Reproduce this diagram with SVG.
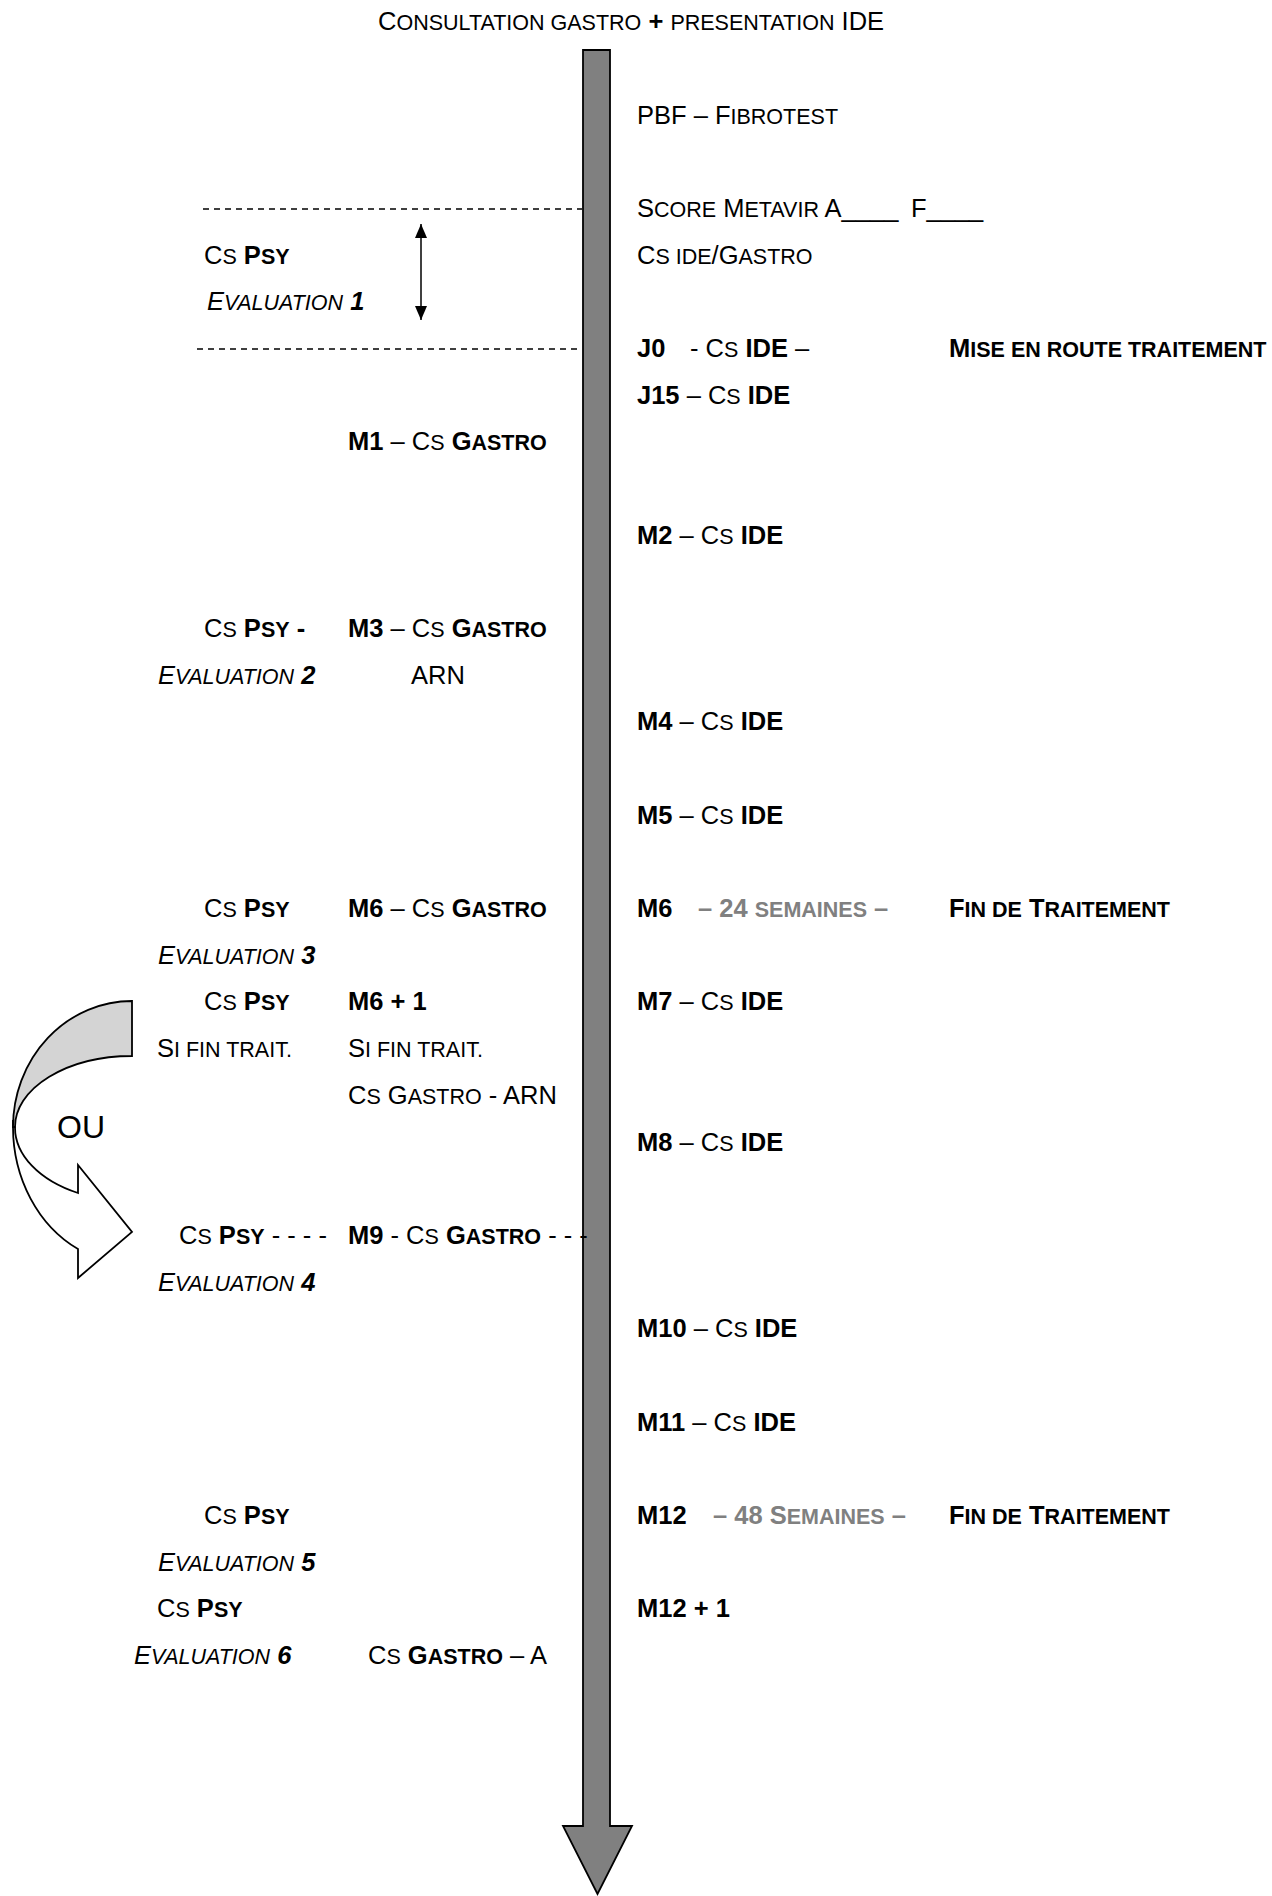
<svg xmlns="http://www.w3.org/2000/svg" width="1272" height="1896" viewBox="0 0 1272 1896">
<style>
text{font-family:"Liberation Sans",Arial,sans-serif;font-size:25.5px;fill:#000}
.s{font-size:21.5px}
.b{font-weight:bold}
.i{font-style:italic}
.g{fill:#808080}
.ou{font-size:32px}
.dash{stroke:#000;stroke-width:1.5;stroke-dasharray:6,5;fill:none}
.ln{stroke:#000;stroke-width:1.5;fill:none}
.shape{stroke:#000;stroke-width:1.8;stroke-linejoin:miter}
</style>
<defs>
<marker id="ah" viewBox="0 0 14 12" refX="14" refY="6" markerWidth="14" markerHeight="12" orient="auto-start-reverse" markerUnits="userSpaceOnUse"><path d="M0,0 L14,6 L0,12 Z" fill="#000"/></marker>
</defs>
<rect width="1272" height="1896" fill="#fff"/>

<g id="connectors">
<path id="timeline" class="shape" fill="#808080" d="M583,50 L610,50 L610,1826 L632,1826 L597.5,1894 L563,1826 L583,1826 Z"/>
<line class="dash" x1="203" y1="209" x2="582" y2="209"/>
<line class="dash" x1="197" y1="349" x2="582" y2="349"/>
<line class="ln" x1="421" y1="224" x2="421" y2="320" marker-start="url(#ah)" marker-end="url(#ah)"/>
<g id="curved-arrow">
<path class="shape" fill="#fff" d="M13,1120 L13,1127 A119,137 0 0 0 78,1249 L78,1278 L132,1232 L78,1165 L78,1193 A117,74 0 0 1 15,1127 Z"/>
<path class="shape" fill="#d4d4d4" d="M132,1001 A119,126 0 0 0 13,1127 L15,1127 A117,71 0 0 1 132,1056 Z"/>
</g>
</g>

<g id="title"><text x="378" y="30">C<tspan class="s">ONSULTATION GASTRO</tspan> <tspan class="b">+</tspan> <tspan class="s">PRESENTATION</tspan> IDE</text></g>

<g id="right-column">
<g id="pbf"><text x="637" y="124">PBF – F<tspan class="s">IBROTEST</tspan></text></g>
<g id="score"><text x="637" y="217">S<tspan class="s">CORE</tspan> M<tspan class="s">ETAVIR</tspan> A____<tspan x="911">F____</tspan></text></g>
<g id="cs-ide-gastro"><text x="637" y="264">C<tspan class="s">S IDE</tspan>/G<tspan class="s">ASTRO</tspan></text></g>
<g id="j0"><text x="637" y="357"><tspan class="b">J0</tspan><tspan x="690">- C</tspan><tspan class="s">S</tspan> <tspan class="b">IDE</tspan> –</text>
<text x="949" y="357" class="b">M<tspan class="s">ISE EN ROUTE TRAITEMENT</tspan></text></g>
<g id="j15"><text x="637" y="404"><tspan class="b">J15</tspan> – C<tspan class="s">S</tspan> <tspan class="b">IDE</tspan></text></g>
<g id="m2"><text x="637" y="544"><tspan class="b">M2</tspan> – C<tspan class="s">S</tspan> <tspan class="b">IDE</tspan></text></g>
<g id="m4"><text x="637" y="730"><tspan class="b">M4</tspan> – C<tspan class="s">S</tspan> <tspan class="b">IDE</tspan></text></g>
<g id="m5"><text x="637" y="824"><tspan class="b">M5</tspan> – C<tspan class="s">S</tspan> <tspan class="b">IDE</tspan></text></g>
<g id="m6-right"><text x="637" y="917" class="b">M6</text>
<text x="698" y="917" class="b g">– 24 <tspan class="s">SEMAINES</tspan> –</text>
<text x="949" y="917" class="b">F<tspan class="s">IN DE</tspan> T<tspan class="s">RAITEMENT</tspan></text></g>
<g id="m7"><text x="637" y="1010"><tspan class="b">M7</tspan> – C<tspan class="s">S</tspan> <tspan class="b">IDE</tspan></text></g>
<g id="m8"><text x="637" y="1151"><tspan class="b">M8</tspan> – C<tspan class="s">S</tspan> <tspan class="b">IDE</tspan></text></g>
<g id="m10"><text x="637" y="1337"><tspan class="b">M10</tspan> – C<tspan class="s">S</tspan> <tspan class="b">IDE</tspan></text></g>
<g id="m11"><text x="637" y="1431"><tspan class="b">M11</tspan> – C<tspan class="s">S</tspan> <tspan class="b">IDE</tspan></text></g>
<g id="m12"><text x="637" y="1524" class="b">M12</text>
<text x="713" y="1524" class="b g">– 48 S<tspan class="s">EMAINES</tspan> –</text>
<text x="949" y="1524" class="b">F<tspan class="s">IN DE</tspan> T<tspan class="s">RAITEMENT</tspan></text></g>
<g id="m12-1"><text x="637" y="1617" class="b">M12 + 1</text></g>
</g>

<g id="left-column">
<g id="psy-1"><text x="204" y="264">C<tspan class="s">S</tspan> <tspan class="b">P<tspan class="s">SY</tspan></tspan></text>
<text x="207" y="310" class="i">E<tspan class="s">VALUATION</tspan> <tspan class="b">1</tspan></text></g>
<g id="m1"><text x="348" y="450"><tspan class="b">M1</tspan> – C<tspan class="s">S</tspan> <tspan class="b">G<tspan class="s">ASTRO</tspan></tspan></text></g>
<g id="psy-2"><text x="204" y="637">C<tspan class="s">S</tspan> <tspan class="b">P<tspan class="s">SY</tspan> -</tspan></text>
<text x="158" y="684" class="i">E<tspan class="s">VALUATION</tspan> <tspan class="b">2</tspan></text></g>
<g id="m3"><text x="348" y="637"><tspan class="b">M3</tspan> – C<tspan class="s">S</tspan> <tspan class="b">G<tspan class="s">ASTRO</tspan></tspan></text>
<text x="411" y="684">ARN</text></g>
<g id="psy-3"><text x="204" y="917">C<tspan class="s">S</tspan> <tspan class="b">P<tspan class="s">SY</tspan></tspan></text>
<text x="158" y="964" class="i">E<tspan class="s">VALUATION</tspan> <tspan class="b">3</tspan></text></g>
<g id="m6-left"><text x="348" y="917"><tspan class="b">M6</tspan> – C<tspan class="s">S</tspan> <tspan class="b">G<tspan class="s">ASTRO</tspan></tspan></text></g>
<g id="psy-m6-1"><text x="204" y="1010">C<tspan class="s">S</tspan> <tspan class="b">P<tspan class="s">SY</tspan></tspan></text>
<text x="157" y="1057">S<tspan class="s">I FIN TRAIT.</tspan></text></g>
<g id="m6-1"><text x="348" y="1010" class="b">M6 + 1</text>
<text x="348" y="1057">S<tspan class="s">I FIN TRAIT.</tspan></text>
<text x="348" y="1104">C<tspan class="s">S</tspan> G<tspan class="s">ASTRO</tspan> - ARN</text></g>
<g id="ou"><text x="57" y="1138" class="ou">OU</text></g>
<g id="psy-4"><text x="179" y="1244">C<tspan class="s">S</tspan> <tspan class="b">P<tspan class="s">SY</tspan></tspan> - - - -</text>
<text x="158" y="1291" class="i">E<tspan class="s">VALUATION</tspan> <tspan class="b">4</tspan></text></g>
<g id="m9"><text x="348" y="1244"><tspan class="b">M9</tspan> - C<tspan class="s">S</tspan> <tspan class="b">G<tspan class="s">ASTRO</tspan></tspan> - - -</text></g>
<g id="psy-5"><text x="204" y="1524">C<tspan class="s">S</tspan> <tspan class="b">P<tspan class="s">SY</tspan></tspan></text>
<text x="158" y="1571" class="i">E<tspan class="s">VALUATION</tspan> <tspan class="b">5</tspan></text></g>
<g id="psy-6"><text x="157" y="1617">C<tspan class="s">S</tspan> <tspan class="b">P<tspan class="s">SY</tspan></tspan></text>
<text x="134" y="1664" class="i">E<tspan class="s">VALUATION</tspan> <tspan class="b">6</tspan></text></g>
<g id="gastro-a"><text x="368" y="1664">C<tspan class="s">S</tspan> <tspan class="b">G<tspan class="s">ASTRO</tspan></tspan> – A</text></g>
</g>
</svg>
